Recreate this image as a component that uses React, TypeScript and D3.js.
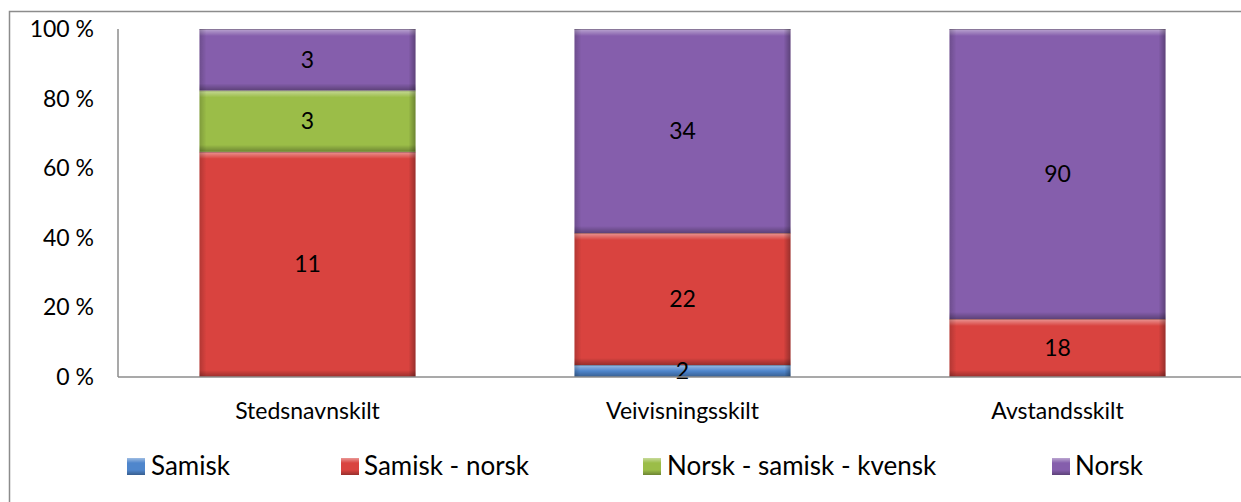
import React from 'react';
import * as d3 from 'd3';

const categories = ['Stedsnavnskilt', 'Veivisningsskilt', 'Avstandsskilt'];
const seriesNames = ['Samisk', 'Samisk - norsk', 'Norsk - samisk - kvensk', 'Norsk'];
const samisk = [0, 2, 0];
const samiskNorsk = [11, 22, 18];
const norskSamiskKvensk = [3, 0, 0];
const norsk = [3, 34, 90];
const yTicks = [0, 20, 40, 60, 80, 100];

const colors = ['#4f86cc', '#d9433f', '#9bbd48', '#855eac'];
const FONT = 'Lato, "Open Sans", sans-serif';
const FS = 23;
const LFS = 26;

const W = 1241;
const H = 502;
const margin = { top: 29, left: 120, bottom: 125, right: -4 };

const App = () => {
  const values = [samisk, samiskNorsk, norskSamiskKvensk, norsk];
  const rows = categories.map((c, i) => {
    const total = d3.sum(values, (s) => s[i]);
    const r: any = { category: c, total };
    seriesNames.forEach((n, k) => { r[n] = (values[k][i] / total) * 100; r[n + '_raw'] = values[k][i]; });
    return r;
  });
  const stacked = d3.stack().keys(seriesNames)(rows);

  const x = d3.scaleBand()
    .domain(categories)
    .range([margin.left, W - margin.right])
    .paddingInner(0.424)
    .paddingOuter(0.212);
  const y = d3.scaleLinear().domain([0, 100]).range([H - margin.bottom, margin.top]);

  const y0 = y(0);
  // legend marker / text start positions
  const legendX = [127, 341, 643, 1052];
  const legendT = [151, 364, 667, 1075];

  return (
    <svg width={W} height={H} style={{ position: 'absolute', left: 0, top: 0, fontFamily: FONT }}>
      <defs>
        <linearGradient id="hl" x1="0" y1="0" x2="0" y2="1">
          <stop offset="0" stopColor="#fff" stopOpacity={0.45} />
          <stop offset="1" stopColor="#fff" stopOpacity={0} />
        </linearGradient>
        <linearGradient id="shB" x1="0" y1="1" x2="0" y2="0">
          <stop offset="0" stopColor="#000" stopOpacity={0.3} />
          <stop offset="1" stopColor="#000" stopOpacity={0} />
        </linearGradient>
        <linearGradient id="shL" x1="0" y1="0" x2="1" y2="0">
          <stop offset="0" stopColor="#000" stopOpacity={0.18} />
          <stop offset="1" stopColor="#000" stopOpacity={0} />
        </linearGradient>
        <linearGradient id="shR" x1="1" y1="0" x2="0" y2="0">
          <stop offset="0" stopColor="#000" stopOpacity={0.3} />
          <stop offset="1" stopColor="#000" stopOpacity={0} />
        </linearGradient>
      </defs>
      <rect x={9.5} y={11.5} width={1300} height={600} fill="#fff" stroke="#8c8c8c" strokeWidth={1.5} />

      {stacked.map((layer, k) => (
        <g key={layer.key}>
          {layer.map((d, i) => {
            const h = y(d[0]) - y(d[1]);
            if (h <= 0) return null;
            const bx = x(categories[i])!;
            const bw = x.bandwidth();
            const by = y(d[1]);
            const e = Math.min(7, h / 2);
            return (
              <g key={i}>
                <rect x={bx} y={by} width={bw} height={h} fill={colors[k]} />
                <rect x={bx} y={by} width={bw} height={e} fill="url(#hl)" />
                <rect x={bx} y={by + h - e} width={bw} height={e} fill="url(#shB)" />
                <rect x={bx} y={by} width={e} height={h} fill="url(#shL)" />
                <rect x={bx + bw - e} y={by} width={e} height={h} fill="url(#shR)" />
                <line x1={bx} x2={bx + bw} y1={by + 0.5} y2={by + 0.5} stroke="#000" strokeOpacity={0.25} />
              </g>
            );
          })}
        </g>
      ))}

      {stacked.map((layer, k) =>
        layer.map((d, i) => {
          const raw = (rows[i] as any)[seriesNames[k] + '_raw'];
          if (!raw) return null;
          return (
            <text key={`${k}-${i}`} x={x(categories[i])! + x.bandwidth() / 2} y={(y(d[0]) + y(d[1])) / 2}
              dy="0.35em" textAnchor="middle" fontSize={FS} fill="#000">{raw}</text>
          );
        })
      )}

      <line x1={margin.left - 2} x2={margin.left - 2} y1={margin.top} y2={y0} stroke="#8c8c8c" strokeWidth={1.5} />
      <line x1={margin.left - 2} x2={W} y1={y0} y2={y0} stroke="#8c8c8c" strokeWidth={1.5} />

      {yTicks.map((t) => (
        <text key={t} x={94} y={y(t)} dy="0.35em" textAnchor="end" fontSize={FS} fill="#000">{t} %</text>
      ))}
      {categories.map((c) => (
        <text key={c} x={x(c)! + x.bandwidth() / 2} y={411} dy="0.35em" textAnchor="middle" fontSize={FS} fill="#000">{c}</text>
      ))}

      {seriesNames.map((n, k) => (
        <g key={n} transform={`translate(0,466)`}>
          <rect x={legendX[k]} y={-8} width={18} height={17} fill={colors[k]} />
          <rect x={legendX[k]} y={-8} width={18} height={5} fill="url(#hl)" />
          <rect x={legendX[k]} y={4} width={18} height={5} fill="url(#shB)" />
          <text x={legendT[k]} y={0} dy="0.35em" fontSize={LFS} fill="#000">{n}</text>
        </g>
      ))}
    </svg>
  );
};

export default App;
